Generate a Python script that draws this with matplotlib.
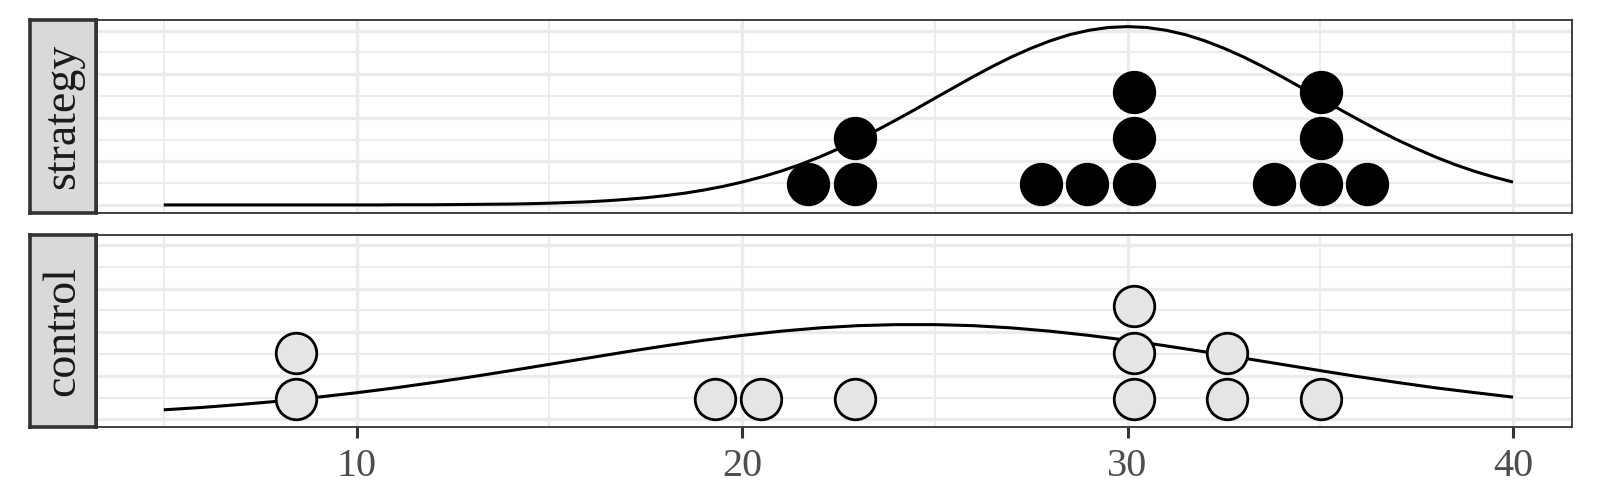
import matplotlib
matplotlib.use("Agg")
import matplotlib.pyplot as plt

# ---------------- data ----------------
panels = ["strategy", "control"]
x_ticks = [10, 20, 30, 40]

strategy_curve_x = [5 + 0.5 * i for i in range(71)]
strategy_curve = [0.000, 0.000, 0.000, 0.000, 0.000, 0.000, 0.000, 0.000,
                  0.000, 0.000, 0.000, 0.000, 0.001, 0.001, 0.001, 0.002,
                  0.003, 0.004, 0.005, 0.007, 0.010, 0.014, 0.018, 0.024,
                  0.032, 0.041, 0.053, 0.067, 0.085, 0.106, 0.131, 0.160,
                  0.193, 0.231, 0.274, 0.322, 0.373, 0.429, 0.488, 0.549,
                  0.612, 0.674, 0.736, 0.795, 0.850, 0.899, 0.942, 0.977,
                  1.002, 1.018, 1.023, 1.018, 1.002, 0.977, 0.942, 0.899,
                  0.850, 0.795, 0.736, 0.674, 0.612, 0.549, 0.488, 0.429,
                  0.373, 0.322, 0.274, 0.231, 0.193, 0.160, 0.131]

control_curve_x = list(range(5, 41))
control_curve = [0.055, 0.069, 0.086, 0.105, 0.128, 0.153, 0.181, 0.212,
                 0.245, 0.280, 0.316, 0.352, 0.388, 0.422, 0.454, 0.482,
                 0.506, 0.525, 0.538, 0.544, 0.544, 0.538, 0.525, 0.506,
                 0.482, 0.454, 0.422, 0.388, 0.352, 0.316, 0.280, 0.245,
                 0.212, 0.181, 0.154, 0.128]

strategy_values = [21.71, 22.93, 22.93, 27.75, 28.96, 30.17, 30.17, 30.17,
                   33.79, 35.01, 35.01, 35.01, 36.21]
control_values = [8.44, 8.44, 19.30, 20.50, 22.93, 30.17, 30.17, 30.17,
                  32.58, 32.58, 35.01]

# ---------------- layout / style ----------------
plt.rcParams["font.family"] = ["Liberation Serif", "DejaVu Serif"]
W, H = 1600, 494
fig = plt.figure(figsize=(W / 100, H / 100), dpi=100)
fig.patch.set_facecolor("white")


def rect(l, t, r, b):
    return [l / W, 1 - b / H, (r - l) / W, (b - t) / H]


panel_rows = [(20.0, 212.6), (234.5, 427.1)]
curves = {"strategy": (strategy_curve_x, strategy_curve),
          "control": (control_curve_x, control_curve)}
values = {"strategy": strategy_values, "control": control_values}
fills = {"strategy": "black", "control": "#E5E5E5"}

dot_y0 = 0.119
dot_step = 0.265

for i, (name, (top, bot)) in enumerate(zip(panels, panel_rows)):
    ax = fig.add_axes(rect(96.7, top, 1572.4, bot))
    ax.set_xlim(3.26, 41.54)
    ax.set_ylim(-0.044, 1.061)
    ax.set_xticks(x_ticks)
    ax.set_xticks([5, 15, 25, 35], minor=True)
    ax.set_yticks([0, 0.25, 0.5, 0.75, 1.0])
    ax.set_yticks([0.125, 0.375, 0.625, 0.875], minor=True)
    ax.grid(which="major", color="#EBEBEB", lw=2.4)
    ax.grid(which="minor", color="#EBEBEB", lw=1.3)
    ax.set_axisbelow(True)
    ax.tick_params(axis="y", which="both", left=False, labelleft=False)
    ax.tick_params(axis="x", which="minor", bottom=False)
    if i == 0:
        ax.tick_params(axis="x", which="major", bottom=False, labelbottom=False)
    else:
        ax.tick_params(axis="x", which="major", length=8, width=2.2,
                       color="#333333", labelsize=29, labelcolor="#4D4D4D",
                       pad=7)
    for sp in ax.spines.values():
        sp.set_color("#333333")
        sp.set_linewidth(1.3)

    cx, cy = curves[name]
    ax.plot(cx, cy, color="black", lw=2.2, zorder=2,
            solid_capstyle="butt", solid_joinstyle="round")

    seen = {}
    xs, ys = [], []
    for v in values[name]:
        k = seen.get(v, 0)
        seen[v] = k + 1
        xs.append(v)
        ys.append(dot_y0 + k * dot_step)
    ax.scatter(xs, ys, s=852, facecolor=fills[name], edgecolor="black",
               linewidths=2.0, zorder=3, clip_on=False)

    sax = fig.add_axes(rect(29.5, top, 95.5, bot))
    sax.set_facecolor("#D9D9D9")
    sax.set_xticks([])
    sax.set_yticks([])
    for sp in sax.spines.values():
        sp.set_color("#333333")
        sp.set_linewidth(2.6)
    sax.text(0.5, 0.5, name, rotation=90, ha="center", va="center",
             fontsize=33, color="#1A1A1A", transform=sax.transAxes)

fig.savefig("out.png", dpi=100)
